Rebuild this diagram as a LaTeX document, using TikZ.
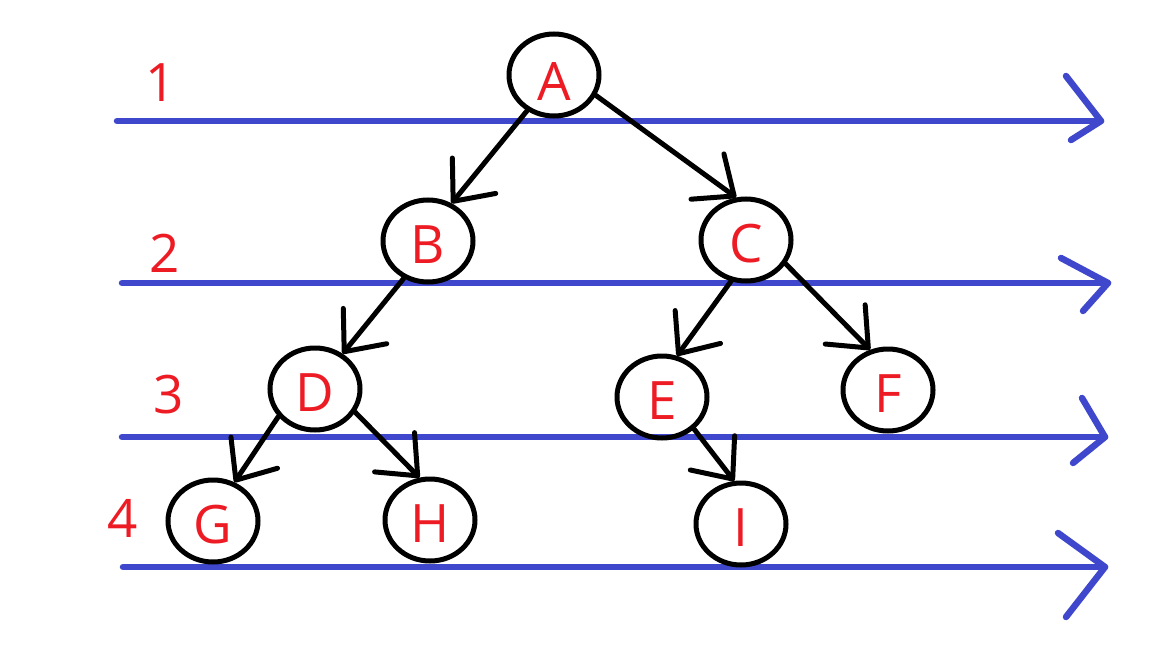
\documentclass[tikz,border=0pt]{standalone}
\usepackage{fontspec}
\setmainfont{Open Sans}
\usetikzlibrary{arrows.meta,shapes.geometric}
\definecolor{redtxt}{HTML}{ED1C24}
\definecolor{lineblue}{HTML}{3F48CC}
\begin{document}
\begin{tikzpicture}[x=1pt,y=-1pt,
  treenode/.style={ellipse, draw=black, line width=5pt, minimum width=90pt,
    minimum height=82pt, inner sep=0pt, text=redtxt,
    font=\fontsize{53}{53}\selectfont, text height=44pt, text depth=0pt},
  edge/.style={draw=black, line width=5pt, line cap=round,
    -{Straight Barb[length=33pt,width=56pt,round]}},
  levelline/.style={draw=lineblue, line width=6.5pt, line cap=round, line join=round},
  levellabel/.style={text=redtxt, font=\fontsize{53}{53}\selectfont, inner sep=0pt}]
\useasboundingbox[fill=white] (0,0) rectangle (1167,669);

% level lines
\coordinate (s1) at (117,121); \coordinate (e1) at (1101,121);
\coordinate (u1) at (1066,76); \coordinate (l1) at (1071,140);
\coordinate (s2) at (122,283); \coordinate (e2) at (1108,283);
\coordinate (u2) at (1061,258); \coordinate (l2) at (1083,311);
\coordinate (s3) at (122,437); \coordinate (e3) at (1105,437);
\coordinate (u3) at (1082,398); \coordinate (l3) at (1073,463);
\coordinate (s4) at (123,567); \coordinate (e4) at (1105,567);
\coordinate (u4) at (1058,533); \coordinate (l4) at (1066,617);
\draw[levelline] (s1) -- (e1); \draw[levelline] (u1) -- (e1) -- (l1);
\draw[levelline] (s2) -- (e2); \draw[levelline] (u2) -- (e2) -- (l2);
\draw[levelline] (s3) -- (e3); \draw[levelline] (u3) -- (e3) -- (l3);
\draw[levelline] (s4) -- (e4); \draw[levelline] (u4) -- (e4) -- (l4);

\node[levellabel] (n1) at (161,83) {1};
\node[levellabel] (n2) at (165,253) {2};
\node[levellabel] (n3) at (169,395) {3};
\node[levellabel] (n4) at (123,518) {4};

% tree nodes
\node[treenode, text height=50pt] (A) at (554,75) {A};
\node[treenode] (B) at (428,241) {B};
\node[treenode] (C) at (746,240) {C};
\node[treenode] (D) at (315,389) {D};
\node[treenode] (E) at (662,397) {E};
\node[treenode] (F) at (888,390) {F};
\node[treenode] (G) at (213,521) {G};
\node[treenode] (H) at (430,520) {H};
\node[treenode] (I) at (741,524) {I};

% edges
\draw[edge] (A.233) -- (B.58);
\draw[edge] (A.-26) -- (C.103);
\draw[edge] (B.237) -- (D.52);
\draw[edge] (C.250) -- (E.70);
\draw[edge] (C.-31) -- (F.114);
\draw[edge] (D.217) -- (G.61);
\draw[edge] (D.-30) -- (H.104);
\draw[edge] (E.-45) -- (I.99);
\end{tikzpicture}
\end{document}
